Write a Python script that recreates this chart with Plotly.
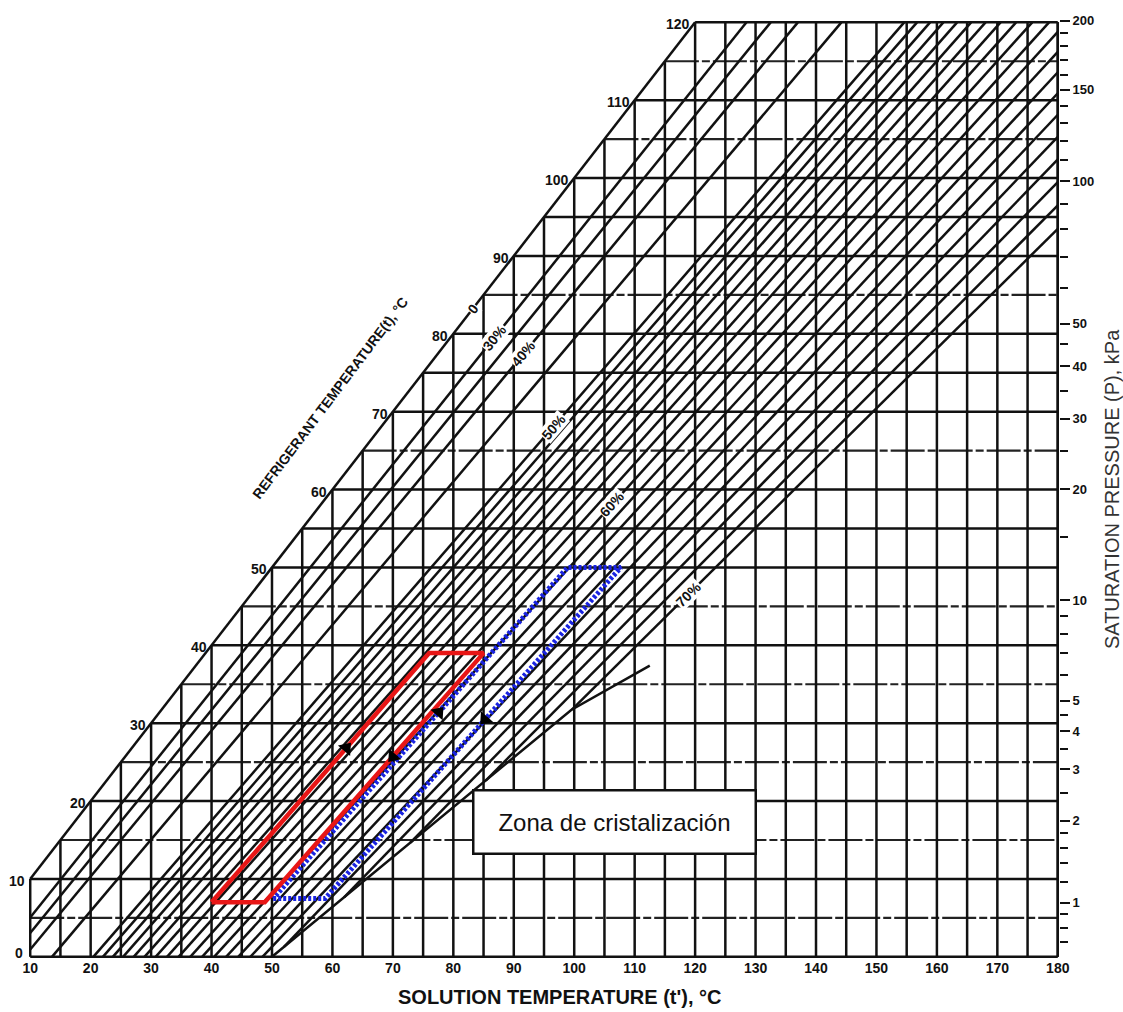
import math
import plotly.graph_objects as go

# ---------------- data ----------------
solution_ticks = list(range(10, 181, 10))          # x-axis labels (°C)
solution_grid = list(range(10, 181, 5))            # vertical grid lines
refrigerant_grid = list(range(0, 121, 5))          # horizontal grid lines
refrigerant_labels = list(range(0, 121, 10))       # labels along the 0 % line
refrigerant_dashed = [5, 15, 25, 35, 45, 65, 85, 105, 115]

# concentration lines (% LiBr): solution temperature at t'=0 °C and at t'=120 °C
conc_left = [0, 30, 35, 40, 45]
conc_left_t0 = [0.0, 4.8, 6.8, 9.0, 13.6]
conc_left_t120 = [120.0, 128.5, 132.5, 137.0, 144.2]

conc_hatch = list(range(50, 71))
conc_hatch_t0 = [20.44, 22.02, 23.67, 25.36, 27.12, 28.91, 30.75, 32.63, 34.54, 36.48,
                 38.44, 40.42, 42.41, 44.41, 46.42, 48.42, 50.42, 52.41, 54.38, 56.34, 58.27]
conc_hatch_t120 = [154.59, 156.71, 158.87, 161.07, 163.34, 165.66, 168.05, 170.53, 173.10, 175.77,
                   178.55, 181.45, 184.48, 187.65, 190.97, 194.44, 198.09, 201.91, 205.91, 210.12, 214.53]

# crystallization line
cryst_solution = [50.0, 99.5, 112.5]
cryst_refrig = [0.0, 31.7, 37.4]

# concentration labels
conc_label_text = ["0", "30%", "40%", "50%", "60%", "70%"]
conc_label_conc = [0, 30, 40, 50, 60, 70]
conc_label_refrig = [83.2, 79.5, 77.5, 68.1, 58.1, 46.6]

# saturation pressure axis (kPa) and matching saturation temperature (°C)
pressure_major = [1, 2, 3, 4, 5, 10, 20, 30, 40, 50, 100, 150, 200]
pressure_major_tsat = [6.97, 17.50, 24.08, 28.96, 32.88, 45.81, 60.06, 69.10, 75.86, 81.32,
                       99.61, 111.35, 120.21]
pressure_minor = [0.7, 0.8, 0.9, 1.2, 1.4, 1.6, 1.8, 2.5, 3.5, 4.5, 6, 7, 8, 9, 15, 25, 35, 45,
                  60, 70, 80, 90, 110, 120, 130, 140, 160, 170, 180, 190]
pressure_minor_tsat = [1.89, 3.76, 5.44, 9.65, 12.0, 14.0, 15.85, 21.08, 26.67, 31.01, 36.16,
                       39.0, 41.51, 43.76, 53.97, 64.97, 72.69, 78.74, 85.93, 89.93, 93.49,
                       96.69, 102.29, 104.78, 107.11, 109.29, 113.30, 115.15, 116.91, 118.60]

# absorption cycles
red_solution = [40.0, 48.8, 85.0, 76.0, 40.0]
red_refrig = [7.0, 7.0, 39.0, 39.0, 7.0]
blue_solution = [50.2, 58.8, 107.7, 98.9, 50.2]
blue_refrig = [7.5, 7.5, 50.0, 50.0, 7.5]
arrow_solution = [62.3, 70.0, 77.6, 85.2]
arrow_refrig = [26.8, 25.7, 31.4, 30.5]
arrow_angle = [41, 221, 41, 221]

box_text = "Zona de cristalización"
box_solution, box_refrig = 106.7, 17.3

# ---------------- geometry helpers ----------------
SOL_MIN, SOL_MAX = 10, 180
REF_MIN, REF_MAX = 0, 120
X_RANGE = [SOL_MIN - 0.2, SOL_MAX + 0.2]
Y_RANGE = [REF_MIN - 0.15, REF_MAX + 0.3]
PX_X = 1030 / (X_RANGE[1] - X_RANGE[0])
PX_Y = 938 / (Y_RANGE[1] - Y_RANGE[0])

FONT_N = "Liberation Sans Narrow, Arial Narrow, Liberation Sans, Arial, sans-serif"
FONT = "Liberation Sans, Arial, sans-serif"


def cryst_intersect(t0, a):
    for i in range(len(cryst_refrig) - 1):
        r0, r1 = cryst_refrig[i], cryst_refrig[i + 1]
        s0, s1 = cryst_solution[i], cryst_solution[i + 1]
        k = (s1 - s0) / (r1 - r0)
        r = (s0 - k * r0 - t0) / (a - k)
        if r0 - 1e-9 <= r <= r1 + 1e-9:
            return r
    return 0.0


def conc_segment(t0, t120):
    a = (t120 - t0) / 120.0
    if t0 < SOL_MIN:
        rs = (SOL_MIN - t0) / a
    elif t0 <= cryst_solution[0]:
        rs = 0.0
    else:
        rs = cryst_intersect(t0, a)
    re = min(REF_MAX, (SOL_MAX - t0) / a)
    return (t0 + a * rs, rs, t0 + a * re, re)


def join(segs):
    xs, ys = [], []
    for x0, y0, x1, y1 in segs:
        xs += [x0, x1, None]
        ys += [y0, y1, None]
    return xs, ys


fig = go.Figure()
LW = 2.5
BLACK = "#111111"

# horizontal grid
h_solid = [(max(SOL_MIN, t), t, SOL_MAX, t) for t in refrigerant_grid if t not in refrigerant_dashed]
h_dash = [(max(SOL_MIN, t), t, SOL_MAX, t) for t in refrigerant_grid if t in refrigerant_dashed]
fig.add_trace(go.Scatter(x=join(h_solid)[0], y=join(h_solid)[1], mode="lines",
                         line=dict(color=BLACK, width=LW), hoverinfo="skip", showlegend=False))
fig.add_trace(go.Scatter(x=join(h_dash)[0], y=join(h_dash)[1], mode="lines",
                         line=dict(color="#222222", width=2.2, dash="34px,3px,8px,3px"),
                         hoverinfo="skip", showlegend=False))

# vertical grid
v_segs = [(s, REF_MIN, s, min(s, REF_MAX)) for s in solution_grid]
xs, ys = join(v_segs)
fig.add_trace(go.Scatter(x=xs, y=ys, mode="lines", line=dict(color=BLACK, width=LW),
                         hoverinfo="skip", showlegend=False))

# concentration lines
c_segs = [conc_segment(a, b) for a, b in zip(conc_left_t0 + conc_hatch_t0, conc_left_t120 + conc_hatch_t120)]
xs, ys = join(c_segs)
fig.add_trace(go.Scatter(x=xs, y=ys, mode="lines", line=dict(color=BLACK, width=LW),
                         hoverinfo="skip", showlegend=False))

# crystallization line
fig.add_trace(go.Scatter(x=cryst_solution, y=cryst_refrig, mode="lines",
                         line=dict(color=BLACK, width=LW), hoverinfo="skip", showlegend=False))

# right edge on the pressure axis
fig.add_trace(go.Scatter(x=[SOL_MAX, SOL_MAX], y=[REF_MIN, REF_MAX], yaxis="y2", mode="lines",
                         line=dict(color=BLACK, width=LW), hoverinfo="skip", showlegend=False))

# cycles
fig.add_trace(go.Scatter(x=blue_solution, y=blue_refrig, mode="lines",
                         line=dict(color="rgb(25,35,225)", width=5, dash="3px,2px"),
                         hoverinfo="skip", showlegend=False))
fig.add_trace(go.Scatter(x=red_solution, y=red_refrig, mode="lines",
                         line=dict(color="rgb(232,22,22)", width=4.5),
                         hoverinfo="skip", showlegend=False))
fig.add_trace(go.Scatter(x=arrow_solution, y=arrow_refrig, mode="markers",
                         marker=dict(symbol="triangle-up", size=14, color="black", angle=arrow_angle),
                         hoverinfo="skip", showlegend=False))

annotations = []
# refrigerant temperature labels along the 0 % line
for v in refrigerant_labels:
    annotations.append(dict(x=max(SOL_MIN, v), y=v, text=f"<b>{v}</b>", showarrow=False,
                            xanchor="right", yanchor="middle",
                            xshift=-5 if v == 0 else -3, yshift=4 if v == 0 else -2,
                            font=dict(family=FONT_N, size=14, color=BLACK)))

# concentration labels
all_conc = conc_left + conc_hatch
all_t0 = conc_left_t0 + conc_hatch_t0
all_t120 = conc_left_t120 + conc_hatch_t120
for txt, c, r in zip(conc_label_text, conc_label_conc, conc_label_refrig):
    i = all_conc.index(c)
    a = (all_t120[i] - all_t0[i]) / 120.0
    ang = -math.degrees(math.atan((PX_Y / PX_X) / a))
    annotations.append(dict(x=all_t0[i] + a * r, y=r, text=f"<b>{txt}</b>", showarrow=False,
                            textangle=ang, bgcolor="white", borderpad=0,
                            font=dict(family=FONT_N, size=14, color=BLACK)))

# crystallization box
annotations.append(dict(x=box_solution, y=box_refrig, text=box_text, showarrow=False,
                        width=278, height=59, bgcolor="white", bordercolor=BLACK, borderwidth=2.5,
                        borderpad=1, font=dict(family=FONT_N, size=24, color=BLACK)))

# axis titles
annotations.append(dict(x=59.6, y=71.8, text="<b>REFRIGERANT TEMPERATURE(t), °C</b>", showarrow=False,
                        textangle=-53, font=dict(family=FONT_N, size=14, color=BLACK)))
annotations.append(dict(xref="paper", yref="paper", x=0.5155, y=-0.042,
                        text="<b>SOLUTION TEMPERATURE (t'), °C</b>", showarrow=False,
                        yanchor="middle", font=dict(family=FONT_N, size=20, color=BLACK)))
annotations.append(dict(xref="paper", yref="paper", x=1.0515, y=0.50,
                        text="SATURATION PRESSURE (P), kPa", showarrow=False, textangle=-90,
                        xanchor="center", yanchor="middle",
                        font=dict(family=FONT, size=20, color="#333333")))

fig.update_layout(
    width=1123, height=1012,
    margin=dict(l=29, r=64, t=20, b=54),
    paper_bgcolor="white", plot_bgcolor="white",
    showlegend=False,
    annotations=annotations,
    xaxis=dict(range=X_RANGE, showgrid=False, zeroline=False, showline=False,
               tickmode="array", tickvals=solution_ticks,
               ticktext=[f"<b>{v}</b>" for v in solution_ticks], ticks="",
               tickfont=dict(family=FONT_N, size=14, color=BLACK)),
    yaxis=dict(range=Y_RANGE, showgrid=False, zeroline=False,
               showline=False, showticklabels=False, ticks=""),
    yaxis2=dict(range=Y_RANGE, overlaying="y", side="right",
                showgrid=False, zeroline=False, showline=False,
                tickmode="array", tickvals=pressure_major_tsat,
                ticktext=[f"<b>{p}</b>" for p in pressure_major],
                ticks="outside", ticklen=10, tickwidth=2, tickcolor=BLACK,
                tickfont=dict(family=FONT_N, size=13, color=BLACK),
                minor=dict(tickmode="array", tickvals=pressure_minor_tsat, ticks="outside",
                           ticklen=8, tickwidth=2, tickcolor=BLACK, showgrid=False)),
)

fig.write_html("out.html", config={"displayModeBar": False},
               post_script="document.body.style.margin='0';document.body.style.overflow='hidden';")
